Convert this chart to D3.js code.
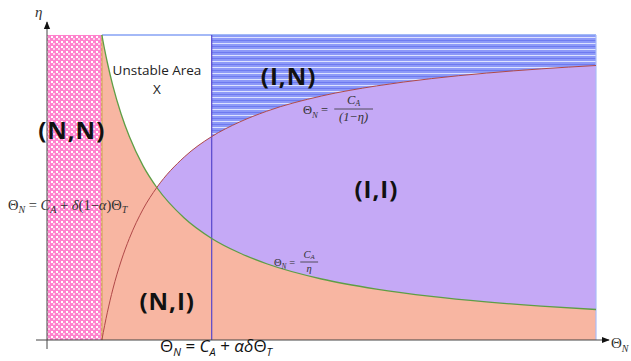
<html>
<head>
  <script src="https://d3js.org/d3.v7.min.js"></script>
</head>
<style>
  body { margin: 0; background: white; }
  .region-label { font-family: "Open Sans", sans-serif; font-weight: bold; fill: #111; }
  .formula { font-family: "Liberation Serif", "DejaVu Serif", serif; fill: #333; }
</style>
<body>
  <svg id="chart" width="631" height="361"></svg>
  <script>
    const theta = [1, 1.05, 1.1, 1.2, 1.35, 1.5, 1.75, 2, 2.5, 3, 3.5, 4, 5, 6, 7, 8, 9, 10];
    // eta on the curve Θ_N = C_A / η
    const etaHyper = [1, 0.952, 0.909, 0.833, 0.741, 0.667, 0.571, 0.5, 0.4, 0.333, 0.286, 0.25, 0.2, 0.167, 0.143, 0.125, 0.111, 0.1];
    // eta on the curve Θ_N = C_A / (1 - η)
    const etaRed = [0, 0.048, 0.091, 0.167, 0.259, 0.333, 0.429, 0.5, 0.6, 0.667, 0.714, 0.75, 0.8, 0.833, 0.857, 0.875, 0.889, 0.9];

    const thetaCA = 1;          // Θ_N = C_A
    const thetaSplit = 3;       // Θ_N = C_A + αδΘ_T
    const thetaMax = 10;

    const svg = d3.select("svg#chart");
    const x = d3.scaleLinear().domain([0, thetaMax]).range([47, 596]);
    const y = d3.scaleLinear().domain([0, 1]).range([340, 35]);

    const defs = svg.append("defs");

    // pink checker
    const pink = defs.append("pattern").attr("id", "pinkCheck")
      .attr("width", 5).attr("height", 5).attr("patternUnits", "userSpaceOnUse");
    pink.append("rect").attr("width", 5).attr("height", 5).attr("fill", "#ff82cd");
    pink.append("rect").attr("x", 1).attr("y", 1).attr("width", 2).attr("height", 2).attr("fill", "#ffffff");
    pink.append("rect").attr("x", 3).attr("y", 3).attr("width", 2).attr("height", 2).attr("fill", "#ffd2ec");

    // blue horizontal stripes
    const blue = defs.append("pattern").attr("id", "blueStripe")
      .attr("width", 8).attr("height", 6).attr("patternUnits", "userSpaceOnUse");
    blue.append("rect").attr("width", 8).attr("height", 6).attr("fill", "#8d99f8");
    blue.append("rect").attr("y", 1).attr("width", 8).attr("height", 1).attr("fill", "#dde2ff");
    blue.append("rect").attr("y", 4).attr("width", 8).attr("height", 1).attr("fill", "#6e7af0");

    const pts = (arr) => theta.map((t, i) => [t, arr[i]]);
    const hyper = pts(etaHyper);
    const red = pts(etaRed);

    const line = d3.line().x(d => x(d[0])).y(d => y(d[1])).curve(d3.curveMonotoneX);
    const area = d3.area().x(d => x(d[0])).y0(y(0)).y1(d => y(d[1])).curve(d3.curveMonotoneX);
    const areaTop = d3.area().x(d => x(d[0])).y0(y(1)).y1(d => y(d[1])).curve(d3.curveMonotoneX);

    // (N,N) pink block
    svg.append("rect")
      .attr("x", x(0)).attr("y", y(1))
      .attr("width", x(thetaCA) - x(0)).attr("height", y(0) - y(1))
      .attr("fill", "url(#pinkCheck)");

    // (I,I) purple: below the red curve
    svg.append("path").datum(red).attr("d", area).attr("fill", "#c5a9f6");

    // (N,I) salmon: below the hyperbola
    svg.append("path").datum(hyper).attr("d", area).attr("fill", "#f8b6a2");

    // (I,N) blue stripes: above the red curve, right of the split line
    svg.append("path").datum(red.filter(d => d[0] >= thetaSplit))
      .attr("d", areaTop).attr("fill", "url(#blueStripe)");

    // frame lines
    svg.append("line").attr("x1", x(thetaCA)).attr("x2", x(thetaMax))
      .attr("y1", y(1)).attr("y2", y(1)).attr("stroke", "#86a2f4").attr("stroke-width", 1.5);
    svg.append("line").attr("x1", x(thetaMax)).attr("x2", x(thetaMax))
      .attr("y1", y(1)).attr("y2", y(0)).attr("stroke", "#a9bdf8").attr("stroke-width", 1.2);
    svg.append("line").attr("x1", x(thetaCA)).attr("x2", x(thetaCA))
      .attr("y1", y(1)).attr("y2", y(0)).attr("stroke", "#c4a23a").attr("stroke-width", 1);
    svg.append("line").attr("x1", x(thetaSplit)).attr("x2", x(thetaSplit))
      .attr("y1", y(1)).attr("y2", y(0)).attr("stroke", "#5646cc").attr("stroke-width", 1.2);

    // curves
    svg.append("path").datum(hyper).attr("d", line)
      .attr("fill", "none").attr("stroke", "#5e9e45").attr("stroke-width", 1.3);
    svg.append("path").datum(red).attr("d", line)
      .attr("fill", "none").attr("stroke", "#b04848").attr("stroke-width", 1);

    // axes with arrows
    defs.append("marker").attr("id", "arrow")
      .attr("viewBox", "0 0 10 10").attr("refX", 9).attr("refY", 5)
      .attr("markerWidth", 8).attr("markerHeight", 8).attr("orient", "auto")
      .append("path").attr("d", "M0,1 L10,5 L0,9 z").attr("fill", "#111");
    svg.append("line").attr("x1", 36).attr("x2", 609).attr("y1", y(0)).attr("y2", y(0))
      .attr("stroke", "#444").attr("stroke-width", 1).attr("marker-end", "url(#arrow)");
    svg.append("line").attr("x1", x(0)).attr("x2", x(0)).attr("y1", 349).attr("y2", 22)
      .attr("stroke", "#444").attr("stroke-width", 1).attr("marker-end", "url(#arrow)");

    svg.append("text").attr("class", "formula").attr("x", 35).attr("y", 17)
      .attr("font-size", 15).attr("font-style", "italic").text("η");
    const thN = svg.append("text").attr("class", "formula").attr("x", 611).attr("y", 348)
      .attr("font-size", 15);
    thN.append("tspan").text("Θ");
    thN.append("tspan").attr("font-size", 10).attr("dy", 4).attr("font-style", "italic").text("N");

    // region labels
    const labels = [
      { text: "(N,N)", t: 0.45, e: 0.66 },
      { text: "(I,N)", t: 4.4, e: 0.835 },
      { text: "(I,I)", t: 6.0, e: 0.465 },
      { text: "(N,I)", t: 2.19, e: 0.1 }
    ];
    svg.selectAll(".region-label").data(labels).join("text")
      .attr("class", "region-label")
      .attr("x", d => x(d.t)).attr("y", d => y(d.e))
      .attr("text-anchor", "middle").attr("font-size", 24)
      .attr("letter-spacing", 1)
      .text(d => d.text);

    svg.append("text").attr("x", 157).attr("y", 75).attr("text-anchor", "middle")
      .attr("font-family", "Open Sans, sans-serif").attr("font-size", 13.5).attr("fill", "#222")
      .text("Unstable Area");
    svg.append("text").attr("x", 157).attr("y", 94).attr("text-anchor", "middle")
      .attr("font-family", "Open Sans, sans-serif").attr("font-size", 13.5).attr("fill", "#222")
      .text("X");

    // fraction formula helper
    function fraction(x0, yBar, size, num, numSub, den) {
      const g = svg.append("g").attr("class", "formula").attr("font-size", size);
      const lhs = g.append("text").attr("x", x0).attr("y", yBar + size * 0.4);
      lhs.append("tspan").text("Θ");
      lhs.append("tspan").attr("font-size", size * 0.7).attr("dy", size * 0.3).attr("font-style", "italic").text("N");
      lhs.append("tspan").attr("dy", -size * 0.3).text(" = ");
      const fx = x0 + size * 2.5;
      const w = den.length > 2 ? size * 3.1 : size * 1.7;
      const numT = g.append("text").attr("x", fx + w / 2).attr("y", yBar - size * 0.4)
        .attr("text-anchor", "middle").attr("font-style", "italic");
      numT.append("tspan").text(num);
      numT.append("tspan").attr("font-size", size * 0.65).attr("dy", size * 0.15).text(numSub);
      g.append("line").attr("x1", fx).attr("x2", fx + w).attr("y1", yBar).attr("y2", yBar)
        .attr("stroke", "#333").attr("stroke-width", 0.8);
      g.append("text").attr("x", fx + w / 2).attr("y", yBar + size * 0.95)
        .attr("text-anchor", "middle").attr("font-style", "italic").text(den);
    }
    fraction(303, 109, 12.5, "C", "A", "(1−η)");
    fraction(274, 262, 10.5, "C", "A", "η");

    // left threshold formula
    const left = svg.append("text").attr("class", "formula").attr("x", 8).attr("y", 210).attr("font-size", 14.5);
    left.append("tspan").text("Θ");
    left.append("tspan").attr("font-size", 10).attr("dy", 3).attr("font-style", "italic").text("N");
    left.append("tspan").attr("dy", -3).text(" = ");
    left.append("tspan").attr("font-style", "italic").text("C");
    left.append("tspan").attr("font-size", 10).attr("dy", 3).attr("font-style", "italic").text("A");
    left.append("tspan").attr("dy", -3).text(" + ");
    left.append("tspan").attr("font-style", "italic").text("δ");
    left.append("tspan").text("(1−");
    left.append("tspan").attr("font-style", "italic").text("α");
    left.append("tspan").text(")Θ");
    left.append("tspan").attr("font-size", 10).attr("dy", 3).attr("font-style", "italic").text("T");

    // bottom threshold formula
    const bot = svg.append("text").attr("x", 160).attr("y", 352)
      .attr("font-family", "Open Sans, sans-serif").attr("font-size", 17).attr("fill", "#111");
    bot.append("tspan").text("Θ");
    bot.append("tspan").attr("font-size", 11).attr("dy", 4).attr("font-style", "italic").text("N");
    bot.append("tspan").attr("dy", -4).text(" = ");
    bot.append("tspan").attr("font-style", "italic").text("C");
    bot.append("tspan").attr("font-size", 11).attr("dy", 4).attr("font-style", "italic").text("A");
    bot.append("tspan").attr("dy", -4).text(" + ");
    bot.append("tspan").attr("font-style", "italic").text("αδ");
    bot.append("tspan").text("Θ");
    bot.append("tspan").attr("font-size", 11).attr("dy", 4).attr("font-style", "italic").text("T");
  </script>
</body>
</html>
